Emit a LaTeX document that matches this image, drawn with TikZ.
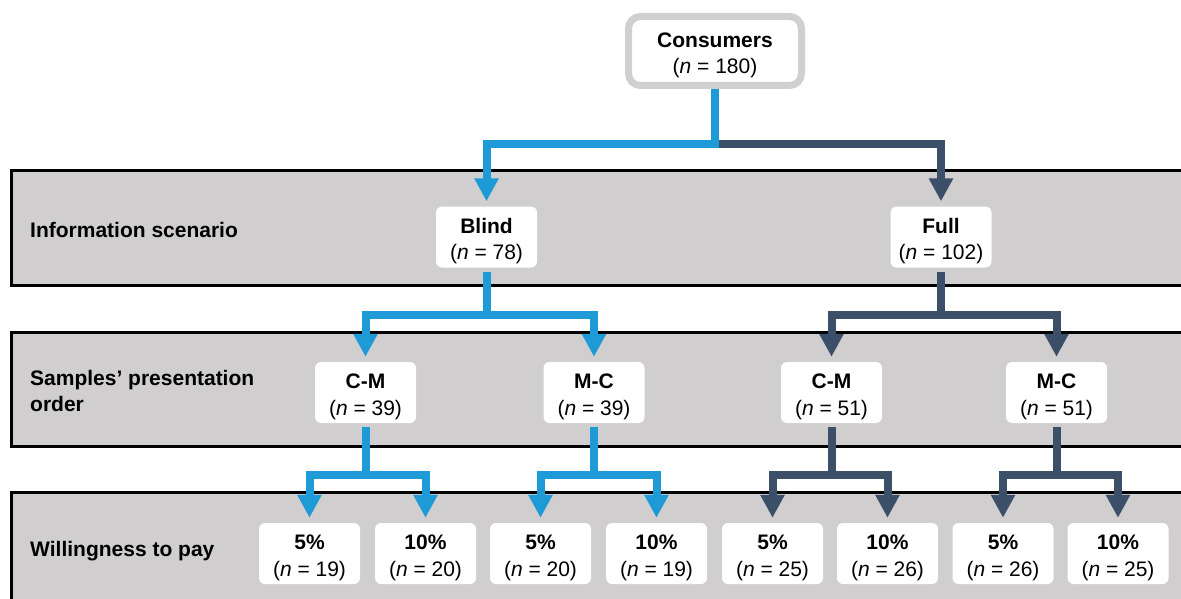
\documentclass[tikz,border=0pt]{standalone}
\usepackage{fontspec}
\setmainfont{Liberation Sans}
\usetikzlibrary{arrows.meta}
\definecolor{cblue}{HTML}{1E9BD7}
\definecolor{cdark}{HTML}{3B5068}
\definecolor{bandgray}{HTML}{D0CECE}
\definecolor{cgray}{HTML}{D0D0D0}
\newcommand{\toprow}[1]{\rule{0pt}{23pt}\textbf{#1}}
\begin{document}
\begin{tikzpicture}[x=1pt,y=-1pt,
  font=\fontsize{21}{26.5}\selectfont,
  bandbox/.style={draw=black, line width=3pt},
  bandlabel/.style={anchor=west, font=\fontsize{21}{26.5}\selectfont\bfseries, align=left, inner sep=0pt},
  box/.style={fill=white, rounded corners=6pt, minimum width=101pt, minimum height=61pt, inner xsep=6pt, inner ysep=0pt, align=center},
  conn/.style={line width=8pt, -{Triangle[width=23pt,length=23pt]}, shorten >=5pt, shorten <=4pt}]
\useasboundingbox (0,0) rectangle (1181,599);
% bands
\fill[bandgray] (11,171) rectangle (1200,285);
\draw[bandbox] (1200,171) -- (11,171) -- (11,285) -- (1200,285);
\fill[bandgray] (11,332) rectangle (1200,446);
\draw[bandbox] (1200,332) -- (11,332) -- (11,446) -- (1200,446);
\fill[bandgray] (11,492) rectangle (1200,620);
\draw[bandbox] (1200,492) -- (11,492) -- (11,620);
\node[bandlabel] (l1) at (30,230) {Information scenario};
\node[bandlabel] (l2) at (30,391) {Samples’ presentation\\order};
\node[bandlabel] (l3) at (30,551) {Willingness to pay};
% nodes
\node[box, draw=cgray, line width=7pt, rounded corners=12pt, minimum width=173pt, minimum height=69pt] (C) at (715,51) {\toprow{Consumers}\\(\textit{n} = 180)};
\node[box] (B) at (486.5,237) {\toprow{Blind}\\(\textit{n} = 78)};
\node[box] (F) at (941,237) {\toprow{Full}\\(\textit{n} = 102)};
\node[box] (CMa) at (365.5,392.5) {\toprow{C-M}\\(\textit{n} = 39)};
\node[box] (MCa) at (594,392.5) {\toprow{M-C}\\(\textit{n} = 39)};
\node[box] (CMb) at (831.5,392.5) {\toprow{C-M}\\(\textit{n} = 51)};
\node[box] (MCb) at (1056.5,392.5) {\toprow{M-C}\\(\textit{n} = 51)};
\node[box] (p1) at (309.5,553.5) {\toprow{5\%}\\(\textit{n} = 19)};
\node[box] (p2) at (425.5,553.5) {\toprow{10\%}\\(\textit{n} = 20)};
\node[box] (p3) at (540.5,553.5) {\toprow{5\%}\\(\textit{n} = 20)};
\node[box] (p4) at (656.5,553.5) {\toprow{10\%}\\(\textit{n} = 19)};
\node[box] (p5) at (772.5,553.5) {\toprow{5\%}\\(\textit{n} = 25)};
\node[box] (p6) at (887.5,553.5) {\toprow{10\%}\\(\textit{n} = 26)};
\node[box] (p7) at (1003,553.5) {\toprow{5\%}\\(\textit{n} = 26)};
\node[box] (p8) at (1118,553.5) {\toprow{10\%}\\(\textit{n} = 25)};
% junction levels
\coordinate (j1) at (0,144);
\coordinate (j2) at (0,315);
\coordinate (j3) at (0,475);
% level 1
\draw[conn, cdark, shorten <=0pt] (C.south) -- (C.south |- j1) -| (F.north);
\draw[conn, cblue, shorten <=0pt] (C.south) -- (C.south |- j1) -| (B.north);
% level 2
\draw[conn, cblue] (B.south) -- (B.south |- j2) -| (CMa.north);
\draw[conn, cblue] (B.south) -- (B.south |- j2) -| (MCa.north);
\draw[conn, cdark] (F.south) -- (F.south |- j2) -| (CMb.north);
\draw[conn, cdark] (F.south) -- (F.south |- j2) -| (MCb.north);
% level 3
\draw[conn, cblue] (CMa.south) -- (CMa.south |- j3) -| (p1.north);
\draw[conn, cblue] (CMa.south) -- (CMa.south |- j3) -| (p2.north);
\draw[conn, cblue] (MCa.south) -- (MCa.south |- j3) -| (p3.north);
\draw[conn, cblue] (MCa.south) -- (MCa.south |- j3) -| (p4.north);
\draw[conn, cdark] (CMb.south) -- (CMb.south |- j3) -| (p5.north);
\draw[conn, cdark] (CMb.south) -- (CMb.south |- j3) -| (p6.north);
\draw[conn, cdark] (MCb.south) -- (MCb.south |- j3) -| (p7.north);
\draw[conn, cdark] (MCb.south) -- (MCb.south |- j3) -| (p8.north);
\end{tikzpicture}
\end{document}
